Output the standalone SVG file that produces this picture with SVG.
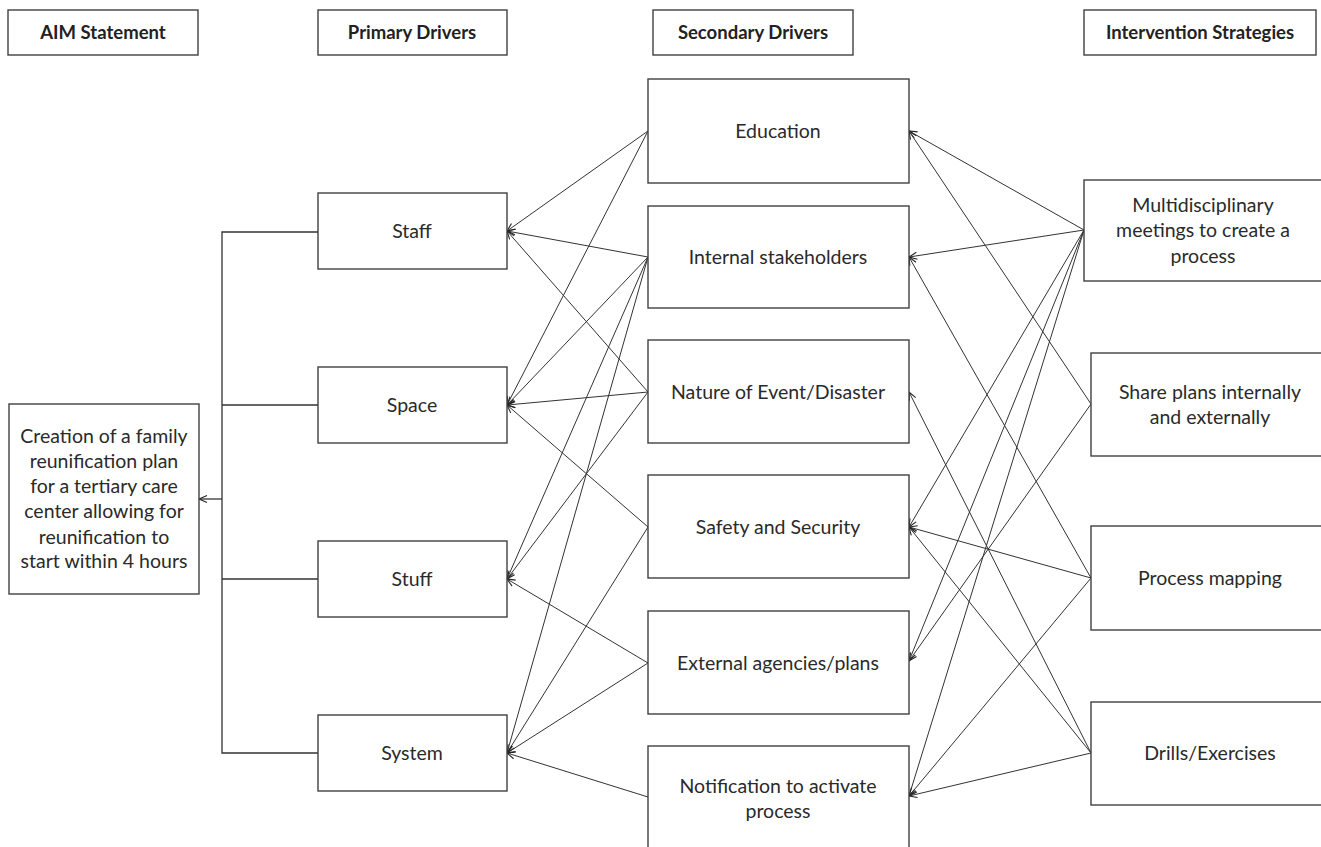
<svg xmlns="http://www.w3.org/2000/svg" width="1321" height="847" viewBox="0 0 1321 847">
  <style>
    .box { fill: #ffffff; stroke: #404040; stroke-width: 1.4; }
    .hdr { font-family: Lato, "Liberation Sans", sans-serif; font-weight: bold; font-size: 18.5px; fill: #222; text-anchor: middle; }
    .lbl { font-family: Lato, "Liberation Sans", sans-serif; font-size: 19.5px; fill: #2a2a2a; text-anchor: middle; }
    .link { fill: none; stroke: #333; stroke-width: 1; }
    .tree { fill: none; stroke: #333; stroke-width: 1.3; }
  </style>
  <defs>
    <marker id="arrow" viewBox="-10 -6 12 12" markerWidth="12" markerHeight="12" refX="0" refY="0" orient="auto" markerUnits="userSpaceOnUse">
      <path d="M-8,-3.5 L0,0 L-8,3.5" fill="none" stroke="#222" stroke-width="1.1"/>
    </marker>
  </defs>
  <rect width="1321" height="847" fill="#ffffff"/>

  <!-- column headers -->
  <g id="hdr-aim"><rect class="box" x="8" y="10" width="190" height="45"/><text class="hdr" x="103" y="39">AIM Statement</text></g>
  <g id="hdr-primary"><rect class="box" x="318" y="10" width="189" height="45"/><text class="hdr" x="412" y="39">Primary Drivers</text></g>
  <g id="hdr-secondary"><rect class="box" x="653" y="10" width="200" height="45"/><text class="hdr" x="753" y="39">Secondary Drivers</text></g>
  <g id="hdr-intervention"><rect class="box" x="1084" y="10" width="232" height="45"/><text class="hdr" x="1200" y="39">Intervention Strategies</text></g>

  <!-- connectors -->
  <g id="connectors">
    <!-- aim bracket -->
    <path class="tree" d="M318,232 H222 V753 H318 M222,405 H318 M222,579 H318"/>
    <line class="tree" x1="222" y1="499" x2="199" y2="499" marker-end="url(#arrow)"/>

    <!-- secondary to primary -->
    <line class="link" x1="648" y1="131" x2="507" y2="231" marker-end="url(#arrow)"/>
    <line class="link" x1="648" y1="131" x2="507" y2="405" marker-end="url(#arrow)"/>
    <line class="link" x1="648" y1="257" x2="507" y2="231" marker-end="url(#arrow)"/>
    <line class="link" x1="648" y1="257" x2="507" y2="405" marker-end="url(#arrow)"/>
    <line class="link" x1="648" y1="257" x2="507" y2="579" marker-end="url(#arrow)"/>
    <line class="link" x1="648" y1="257" x2="507" y2="753" marker-end="url(#arrow)"/>
    <line class="link" x1="648" y1="392" x2="507" y2="231" marker-end="url(#arrow)"/>
    <line class="link" x1="648" y1="392" x2="507" y2="405" marker-end="url(#arrow)"/>
    <line class="link" x1="648" y1="392" x2="507" y2="579" marker-end="url(#arrow)"/>
    <line class="link" x1="648" y1="527" x2="507" y2="405" marker-end="url(#arrow)"/>
    <line class="link" x1="648" y1="527" x2="507" y2="753" marker-end="url(#arrow)"/>
    <line class="link" x1="648" y1="663" x2="507" y2="579" marker-end="url(#arrow)"/>
    <line class="link" x1="648" y1="663" x2="507" y2="753" marker-end="url(#arrow)"/>
    <line class="link" x1="648" y1="797" x2="507" y2="753" marker-end="url(#arrow)"/>

    <!-- interventions to secondary -->
    <line class="link" x1="1084" y1="230" x2="909" y2="131" marker-end="url(#arrow)"/>
    <line class="link" x1="1084" y1="230" x2="909" y2="257" marker-end="url(#arrow)"/>
    <line class="link" x1="1084" y1="230" x2="909" y2="527" marker-end="url(#arrow)"/>
    <line class="link" x1="1084" y1="230" x2="909" y2="661" marker-end="url(#arrow)"/>
    <line class="link" x1="1084" y1="230" x2="909" y2="796" marker-end="url(#arrow)"/>
    <line class="link" x1="1091" y1="404" x2="909" y2="131" marker-end="url(#arrow)"/>
    <line class="link" x1="1091" y1="404" x2="909" y2="661" marker-end="url(#arrow)"/>
    <line class="link" x1="1091" y1="578" x2="909" y2="257" marker-end="url(#arrow)"/>
    <line class="link" x1="1091" y1="578" x2="909" y2="527" marker-end="url(#arrow)"/>
    <line class="link" x1="1091" y1="578" x2="909" y2="796" marker-end="url(#arrow)"/>
    <line class="link" x1="1091" y1="753" x2="909" y2="392" marker-end="url(#arrow)"/>
    <line class="link" x1="1091" y1="753" x2="909" y2="527" marker-end="url(#arrow)"/>
    <line class="link" x1="1091" y1="753" x2="909" y2="796" marker-end="url(#arrow)"/>
  </g>

  <!-- aim statement -->
  <g id="aim">
    <rect class="box" x="9" y="404" width="190" height="190"/>
    <text class="lbl" x="104" y="443">Creation of a family</text>
    <text class="lbl" x="104" y="468">reunification plan</text>
    <text class="lbl" x="104" y="493">for a tertiary care</text>
    <text class="lbl" x="104" y="518">center allowing for</text>
    <text class="lbl" x="104" y="544">reunification to</text>
    <text class="lbl" x="104" y="568">start within 4 hours</text>
  </g>

  <!-- primary drivers -->
  <g id="p-staff"><rect class="box" x="318" y="193" width="189" height="76"/><text class="lbl" x="412" y="238">Staff</text></g>
  <g id="p-space"><rect class="box" x="318" y="367" width="189" height="76"/><text class="lbl" x="412" y="412">Space</text></g>
  <g id="p-stuff"><rect class="box" x="318" y="541" width="189" height="76"/><text class="lbl" x="412" y="586">Stuff</text></g>
  <g id="p-system"><rect class="box" x="318" y="715" width="189" height="76"/><text class="lbl" x="412" y="760">System</text></g>

  <!-- secondary drivers -->
  <g id="s-education"><rect class="box" x="648" y="79" width="261" height="104"/><text class="lbl" x="778" y="138">Education</text></g>
  <g id="s-internal"><rect class="box" x="648" y="206" width="261" height="102"/><text class="lbl" x="778" y="264">Internal stakeholders</text></g>
  <g id="s-nature"><rect class="box" x="648" y="340" width="261" height="103"/><text class="lbl" x="778" y="399">Nature of Event/Disaster</text></g>
  <g id="s-safety"><rect class="box" x="648" y="475" width="261" height="103"/><text class="lbl" x="778" y="534">Safety and Security</text></g>
  <g id="s-external"><rect class="box" x="648" y="611" width="261" height="103"/><text class="lbl" x="778" y="670">External agencies/plans</text></g>
  <g id="s-notification">
    <rect class="box" x="648" y="746" width="261" height="110"/>
    <text class="lbl" x="778" y="793">Notification to activate</text>
    <text class="lbl" x="778" y="818">process</text>
  </g>

  <!-- intervention strategies -->
  <g id="i-multi">
    <rect class="box" x="1084" y="180" width="245" height="101"/>
    <text class="lbl" x="1203" y="212">Multidisciplinary</text>
    <text class="lbl" x="1203" y="237">meetings to create a</text>
    <text class="lbl" x="1203" y="263">process</text>
  </g>
  <g id="i-share">
    <rect class="box" x="1091" y="353" width="240" height="103"/>
    <text class="lbl" x="1210" y="399">Share plans internally</text>
    <text class="lbl" x="1210" y="424">and externally</text>
  </g>
  <g id="i-mapping"><rect class="box" x="1091" y="526" width="240" height="104"/><text class="lbl" x="1210" y="585">Process mapping</text></g>
  <g id="i-drills"><rect class="box" x="1091" y="702" width="240" height="103"/><text class="lbl" x="1210" y="760">Drills/Exercises</text></g>
</svg>
